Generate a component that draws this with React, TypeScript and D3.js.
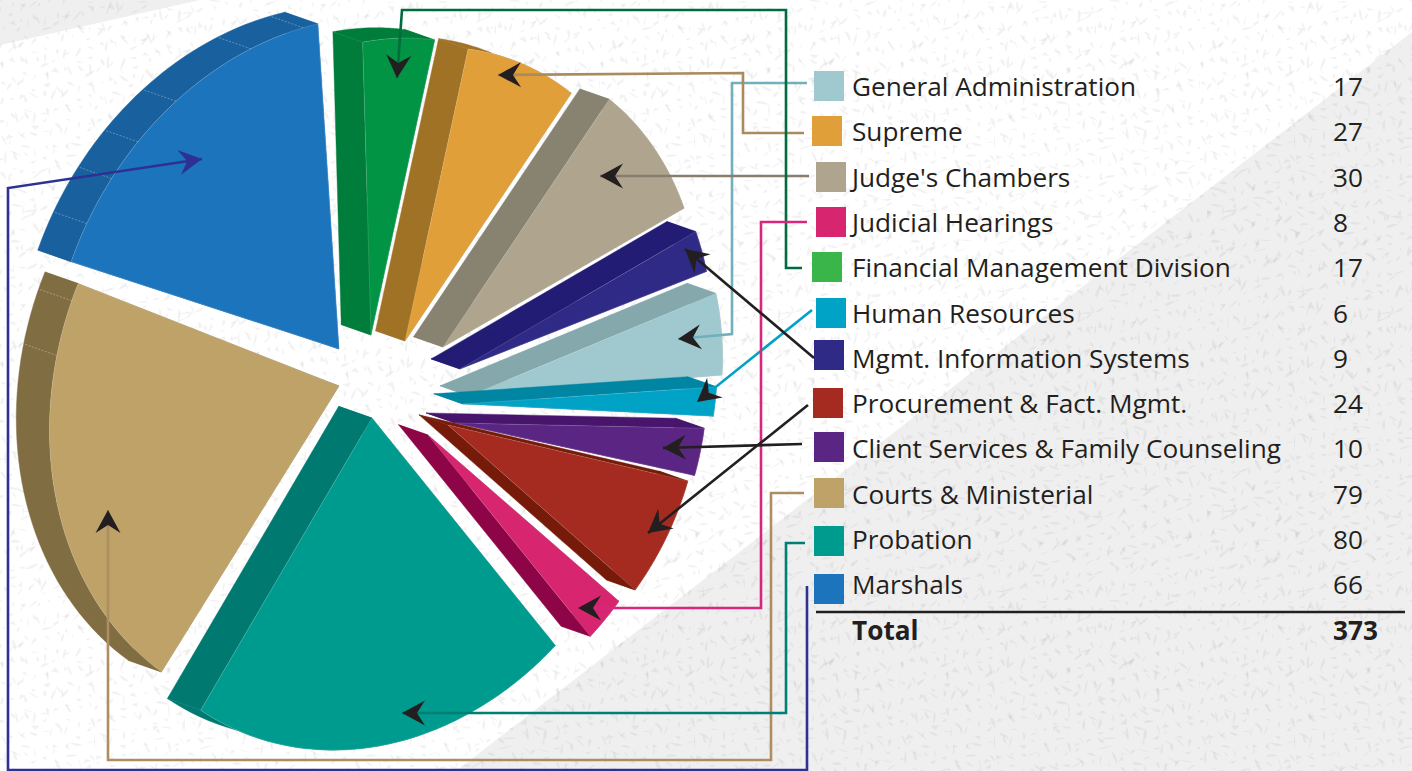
import { useEffect, useRef } from 'react'
import * as d3 from 'd3'

// pie order, clockwise from the left edge of Marshals
const pieNames = ['Marshals', 'Financial Management Division', 'Supreme', "Judge's Chambers", 'Mgmt. Information Systems', 'General Administration', 'Human Resources', 'Client Services & Family Counseling', 'Procurement & Fact. Mgmt.', 'Judicial Hearings', 'Probation', 'Courts & Ministerial']
const pieValues = [66, 17, 27, 30, 9, 17, 6, 10, 24, 8, 80, 79]
const faceColors = ['#1C75BC', '#009444', '#E19F39', '#AFA48D', '#2E2A86', '#9FC9CE', '#00A2C6', '#5A2583', '#A52B20', '#D7266F', '#009B8F', '#BEA267']
const wallColors = ['#18609E', '#007D3A', '#A07226', '#888270', '#231C75', '#84A8AC', '#0085A3', '#47156C', '#761A0A', '#8E0547', '#007A71', '#816D42']

// legend order
const legendNames = ['General Administration', 'Supreme', "Judge's Chambers", 'Judicial Hearings', 'Financial Management Division', 'Human Resources', 'Mgmt. Information Systems', 'Procurement & Fact. Mgmt.', 'Client Services & Family Counseling', 'Courts & Ministerial', 'Probation', 'Marshals']
const legendValues = [17, 27, 30, 8, 17, 6, 9, 24, 10, 79, 80, 66]
const legendColors = ['#9FC9CE', '#E19F39', '#AFA48D', '#D7266F', '#39B54A', '#00A2C6', '#2E2A86', '#A52B20', '#5A2583', '#BEA267', '#009B8F', '#1C75BC']
const totalValue = 373

// layout below here, not data
const W = 1412
const H = 771
const center = { x: 395, y: 385 }
// how the flat pie is tilted on the page: where angle 0 and angle 90deg land
const axisA = { x: -235, y: -83 }
const axisB = { x: 105, y: -282 }
const depth = { x: -29.5, y: -10.3 }
// explosion of each slice, and the three big ones are drawn larger
const explode = [[-56, -36], [-24, -50], [10, -44], [48, -38], [65, -16], [74, 11], [68, 19], [60, 38], [53, 40], [33, 50], [-23, 33], [-56, 1]]
const radiusScale = [1.13, 1.01, 1, 1, 0.98, 0.985, 0.988, 0.98, 0.985, 1, 1.13, 1.125]
// the artwork's edges sit slightly off the true angles, [start, end] shift of each slice
const edgeShift = [[-1.2, -2], [0.4, 0], [0, 0], [0, 0.3], [0, 0], [-1, -0.8], [0, 0], [-1.4, -1.6], [-0.9, -0.5], [-0.8, 0.3], [0.3, -1.8], [0, 1.7]]
const seams: Record<string, number[]> = {
  Marshals: [6, 15, 23, 33, 50, 61],
  'Courts & Ministerial': [361.5, 371.5],
}

const swatchX = [814, 812, 816, 816, 812, 816, 814, 813, 814, 814, 814, 814]
const swatchY = [71, 116, 162, 207, 252, 298, 340, 388, 432, 478, 526, 574]

const leaders = [
  { color: '#6FB0BC', head: '#231F20', pts: [[807, 83], [732, 83], [732, 334], [678, 339]] },
  { color: '#A98B5F', head: '#231F20', pts: [[804, 133], [743, 133], [743, 73], [498, 75]] },
  { color: '#8B7D6E', head: '#231F20', pts: [[809, 176], [600, 176]] },
  { color: '#006B3F', head: '#231F20', pts: [[802, 268], [786, 268], [786, 10], [402, 10], [397, 78]] },
  { color: '#00A2C6', head: '#231F20', pts: [[812, 310], [697, 402]] },
  { color: '#D7267B', head: '#231F20', pts: [[807, 222], [761, 222], [761, 608], [578, 608]] },
  { color: '#231F20', head: '#231F20', pts: [[814, 358], [685, 249]] },
  { color: '#231F20', head: '#231F20', pts: [[808, 405], [648, 533]] },
  { color: '#231F20', head: '#231F20', pts: [[802, 444], [663, 448]] },
  { color: '#AD8E62', head: '#231F20', pts: [[804, 493], [771, 493], [771, 760], [108, 760], [108, 510]] },
  { color: '#007F75', head: '#231F20', pts: [[805, 543], [786, 543], [786, 713], [402, 713]] },
  { color: '#2E3192', head: '#2E3192', pts: [[807, 586], [807, 770], [8, 770], [8, 188], [202, 159]] },
]

const project = (angle: number, r: number) => ({
  x: r * (axisA.x * Math.cos(angle) + axisB.x * Math.sin(angle)),
  y: r * (axisA.y * Math.cos(angle) + axisB.y * Math.sin(angle)),
})

export default function App() {
  const svgRef = useRef<SVGSVGElement>(null)

  useEffect(() => {
    const svg = d3.select(svgRef.current)
    svg.selectAll('*').remove()

    // paper texture: little flecks on a repeating tile
    const tile = svg.append('defs').append('pattern')
      .attr('id', 'flecks').attr('patternUnits', 'userSpaceOnUse')
      .attr('width', 300).attr('height', 300)
    const frac = (v: number) => v - Math.floor(v)
    d3.range(850).forEach((i) => {
      const fx = frac(i * 0.754877) * 300
      const fy = frac(i * 0.56984) * 300
      const rot = frac(i * 0.381966) * 360
      const len = 3 + frac(i * 0.2718) * 6
      const wid = 1 + frac(i * 0.1414) * 3
      tile.append('path')
        .attr('d', i % 3 === 0
          ? `M0,0L${len},${wid}L${len * 0.3},${wid * 1.6}Z`
          : `M0,0Q${len * 0.5},${-wid} ${len * 1.6},${wid * 0.4}Q${len * 0.5},${wid * 0.6} 0,0Z`)
        .attr('transform', `translate(${fx},${fy}) rotate(${rot})`)
        .attr('fill', '#000').attr('opacity', 0.05)
    })

    svg.append('rect').attr('width', W).attr('height', H).attr('fill', '#fff')
    const band = d3.line()
    svg.append('path').attr('d', band([[0, 0], [200, 0], [0, 45]]) + 'Z').attr('fill', '#EFEFEF')
    svg.append('path').attr('d', band([[W, 32], [456, H], [W, H]]) + 'Z').attr('fill', '#EFEFEF')
    svg.append('rect').attr('width', W).attr('height', H).attr('fill', 'url(#flecks)')

    // slices
    const arcs = d3.pie<number>().sort(null).startAngle(0).endAngle(2 * Math.PI)(pieValues)
    const line = d3.line<{ x: number; y: number }>().x((d) => d.x).y((d) => d.y)
    const angleOf = d3.scaleLinear().domain([0, totalValue]).range([0, 2 * Math.PI])

    const pieG = svg.append('g').attr('transform', `translate(${center.x},${center.y})`)

    arcs.forEach((a, i) => {
      const r = radiusScale[i]
      const [ex, ey] = explode[i]
      const g = pieG.append('g').attr('transform', `translate(${ex},${ey})`)
      const from = a.startAngle + angleOf(edgeShift[i][0])
      const to = a.endAngle + angleOf(edgeShift[i][1])
      const rim = d3.range(0, 41).map((k) => project(from + ((to - from) * k) / 40, r))
      const back = (p: { x: number; y: number }) => ({ x: p.x + depth.x * r, y: p.y + depth.y * r })
      const apex = { x: 0, y: 0 }
      const wall = wallColors[i]

      // side walls first, the top face goes over them
      const walls = [
        [apex, rim[0], back(rim[0]), back(apex)],
        [apex, rim[40], back(rim[40]), back(apex)],
        [...rim, ...rim.map(back).reverse()],
      ]
      walls.forEach((w) => {
        g.append('path').attr('d', line(w) + 'Z').attr('fill', wall).attr('stroke', wall).attr('stroke-width', 0.4)
      })

      ;(seams[pieNames[i]] || []).forEach((v) => {
        const p = project(angleOf(v), r)
        g.append('path').attr('d', line([p, back(p)]))
          .attr('stroke', '#fff').attr('stroke-opacity', 0.45).attr('stroke-width', 0.7)
          .attr('stroke-dasharray', '2,1.5')
      })

      g.append('path').attr('d', line([apex, ...rim]) + 'Z')
        .attr('fill', faceColors[i])
        .attr('stroke', '#fff').attr('stroke-opacity', 0.25).attr('stroke-width', 0.6)
    })

    // legend
    const legend = svg.append('g')
      .attr('font-family', '"Open Sans", sans-serif').attr('font-size', 26.2).attr('fill', '#231F20')
    legendNames.forEach((name, i) => {
      const baseline = 96 + i * 45.3
      legend.append('rect')
        .attr('x', swatchX[i]).attr('y', swatchY[i])
        .attr('width', 30).attr('height', 30).attr('fill', legendColors[i])
      legend.append('text').attr('x', 852).attr('y', baseline).text(name)
      legend.append('text').attr('x', 1333).attr('y', baseline).text(legendValues[i])
    })
    svg.append('line')
      .attr('x1', 816).attr('x2', 1405).attr('y1', 612).attr('y2', 612)
      .attr('stroke', '#231F20').attr('stroke-width', 2.5)
    legend.append('text').attr('x', 852).attr('y', 640).attr('font-weight', 700).text('Total')
    legend.append('text').attr('x', 1333).attr('y', 640).attr('font-weight', 700).text(totalValue)

    // leader lines with their arrow heads
    const path = d3.line()
    leaders.forEach((l) => {
      const pts = l.pts as [number, number][]
      svg.append('path').attr('d', path(pts))
        .attr('fill', 'none').attr('stroke', l.color).attr('stroke-width', 2.6)
      const tip = pts[pts.length - 1]
      const prev = pts[pts.length - 2]
      const deg = (Math.atan2(tip[1] - prev[1], tip[0] - prev[0]) * 180) / Math.PI
      svg.append('path')
        .attr('d', 'M0,0L-23,-12.5L-15,0L-23,12.5Z')
        .attr('transform', `translate(${tip[0]},${tip[1]}) rotate(${deg})`)
        .attr('fill', l.head)
    })
  }, [])

  return <svg ref={svgRef} width={W} height={H} style={{ position: 'absolute', left: 0, top: 0, display: 'block' }} />
}
